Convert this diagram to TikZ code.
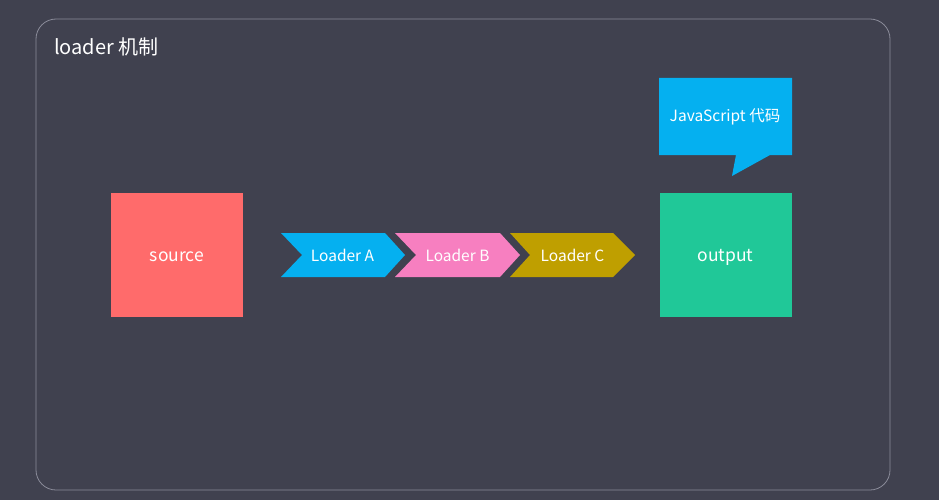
\documentclass[tikz,border=0pt]{standalone}
\usepackage{fontspec}
\setmainfont{Noto Sans CJK SC}
\usetikzlibrary{shapes.geometric}
\definecolor{bg}{RGB}{64,65,79}
\definecolor{frame}{RGB}{138,139,153}
\definecolor{srcred}{RGB}{255,107,107}
\definecolor{outgreen}{RGB}{32,200,152}
\definecolor{blueA}{RGB}{5,176,240}
\definecolor{pinkB}{RGB}{247,127,192}
\definecolor{goldC}{RGB}{191,159,0}
\tikzset{
  box/.style={fill=#1, draw=none, minimum width=132pt, minimum height=124pt, inner sep=0pt, text=white, font=\fontsize{17.5pt}{20pt}\selectfont},
  lbl/.style={text=white, font=\fontsize{15.5pt}{18pt}\selectfont},
}
\begin{document}
\begin{tikzpicture}[x=1pt,y=-1pt]
\fill[bg] (0,0) rectangle (939,500);
\useasboundingbox (0,0) rectangle (939,500);
\draw[frame, line width=0.8pt, rounded corners=20pt] (36,19) rectangle (890,490);
\node[anchor=west, text=white, font=\fontsize{20pt}{24pt}\selectfont, inner sep=0pt] (title) at (54,47) {loader 机制};
% source and output
\node[box=srcred] (source) at (177,255) {};
\node[text=white, font=\fontsize{17.5pt}{20pt}\selectfont] (srclbl) at (177,257) {source};
\node[box=outgreen] (output) at (725.5,255) {};
\node[text=white, font=\fontsize{17.5pt}{20pt}\selectfont] (outlbl) at (725.5,257) {output};
% callout
\fill[blueA] (659,78) -- (792,78) -- (792,155) -- (770,155) -- (732,176) -- (736,155) -- (659,155) -- cycle;
\node[lbl] (js) at (725,117) {JavaScript 代码};
% chevrons
\fill[blueA] (281,233) -- (385,233) -- (405,255) -- (385,277) -- (281,277) -- (302,255) -- cycle;
\node[lbl] (la) at (342.5,255.5) {Loader A};
\fill[pinkB] (395,233) -- (500,233) -- (520,255) -- (500,277) -- (395,277) -- (416,255) -- cycle;
\node[lbl] (lb) at (457.5,255.5) {Loader B};
\fill[goldC] (510,233) -- (613,233) -- (635,255) -- (613,277) -- (510,277) -- (530,255) -- cycle;
\node[lbl] (lc) at (572.5,255.5) {Loader C};
\end{tikzpicture}
\end{document}
